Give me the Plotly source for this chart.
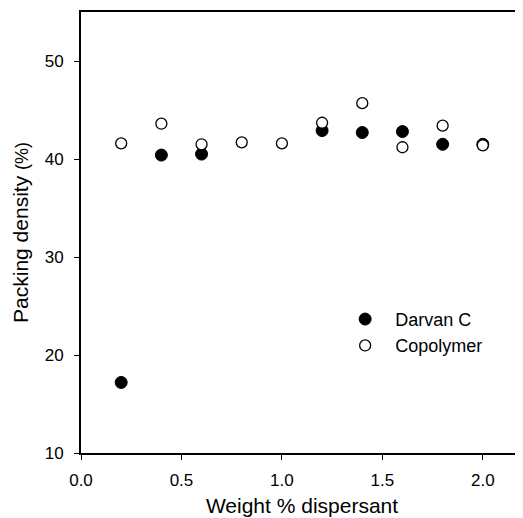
import plotly.graph_objects as go

# data
dispersant = [0.2, 0.4, 0.6, 0.8, 1.0, 1.2, 1.4, 1.6, 1.8, 2.0]
darvan_x = [0.2, 0.4, 0.6, 1.2, 1.4, 1.6, 1.8, 2.0]
darvan_y = [17.2, 40.4, 40.5, 42.9, 42.7, 42.8, 41.5, 41.5]
copolymer_y = [41.6, 43.6, 41.5, 41.7, 41.6, 43.7, 45.7, 41.2, 43.4, 41.4]

font = "Liberation Sans, Arial, sans-serif"

fig = go.Figure()
fig.add_trace(go.Scatter(x=darvan_x, y=darvan_y, mode="markers", name="Darvan C",
                         marker=dict(symbol="circle", size=12, color="black",
                                     line=dict(color="black", width=1))))
fig.add_trace(go.Scatter(x=dispersant, y=copolymer_y, mode="markers", name="Copolymer",
                         marker=dict(symbol="circle", size=11, color="white",
                                     line=dict(color="black", width=1.3))))

# page body has an 8px margin, so the figure is a bit smaller than the window
fig.update_layout(
    width=515, height=510,
    margin=dict(l=73, r=0, t=4, b=65, autoexpand=False),
    plot_bgcolor="white", paper_bgcolor="white",
    font=dict(family=font, size=17, color="black"),
    legend=dict(x=0.575, y=0.345, xanchor="left", yanchor="top",
                bgcolor="rgba(0,0,0,0)", font=dict(size=18),
                itemwidth=50, tracegroupgap=0),
    showlegend=True,
)
fig.update_xaxes(range=[0, 2.2], tickvals=[0, 0.5, 1.0, 1.5, 2.0], tickformat=".1f",
                 ticks="outside", ticklen=5, tickwidth=1, tickcolor="black",
                 ticklabelstandoff=6,
                 showline=True, linecolor="black", linewidth=2, mirror=True,
                 showgrid=False, zeroline=False,
                 title=dict(text="Weight % dispersant", font=dict(size=21), standoff=9))
fig.update_yaxes(range=[10, 55], tickvals=[10, 20, 30, 40, 50],
                 ticks="outside", ticklen=5, tickwidth=1, tickcolor="black",
                 ticklabelstandoff=7,
                 showline=True, linecolor="black", linewidth=2,
                 showgrid=False, zeroline=False,
                 title=dict(text="Packing density <span style='font-size:18px'>(%)</span>",
                            font=dict(size=21), standoff=10))

fig.write_html("out.html")
